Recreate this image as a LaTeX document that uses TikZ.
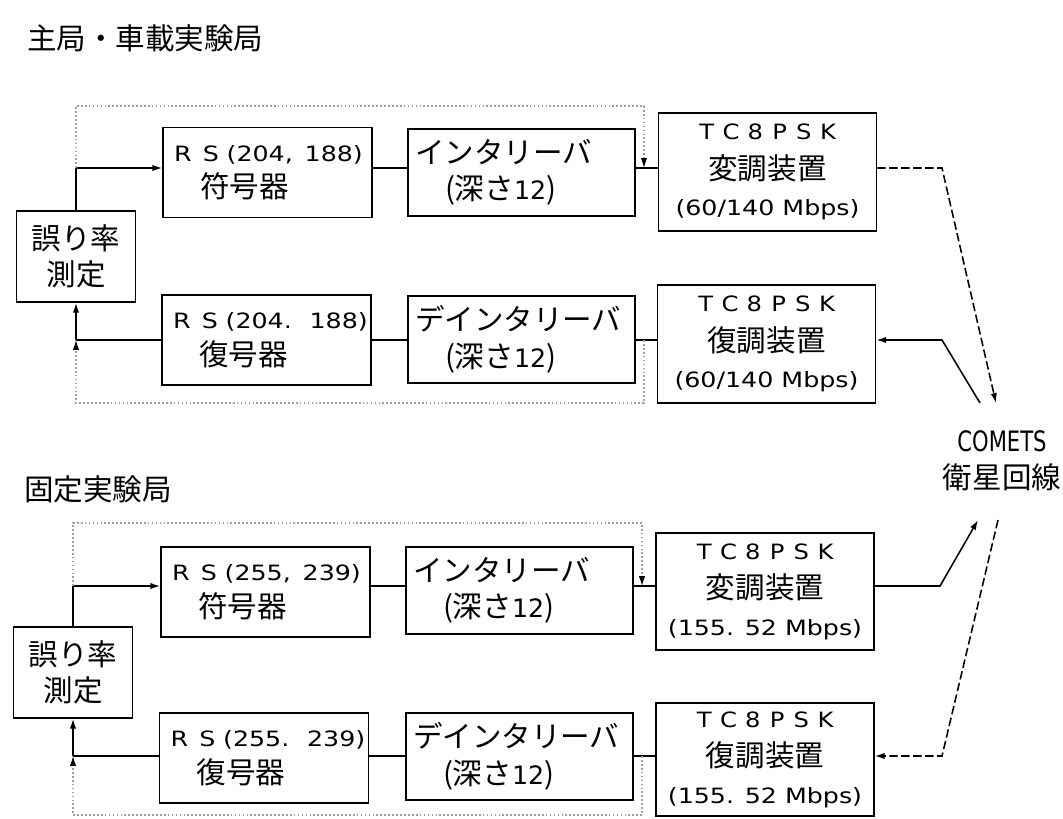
\documentclass[tikz,border=0pt]{standalone}
\usepackage{fontspec}
\usepackage{graphicx}
\setmainfont{Noto Sans CJK JP}
\newfontfamily\latfont{DejaVu Sans}
\usetikzlibrary{arrows.meta}
\newcommand\lat[1]{\scalebox{1.2}[1]{\latfont\fontsize{15pt}{15pt}\selectfont #1}}
\newcommand\fwc[1]{\makebox[1em]{#1}}
\newcommand\dig[1]{{\latfont\fontsize{18pt}{18pt}\selectfont #1}}
\newcommand\tcline{\scalebox{1.15}[1]{\latfont\fontsize{15pt}{15pt}\selectfont\fwc{T}\fwc{C}\fwc{8}\fwc{P}\fwc{S}\fwc{K}}}
\begin{document}
\begin{tikzpicture}[x=0.025cm,y=-0.025cm,
  font=\fontsize{21pt}{26pt}\selectfont,
  bx/.style n args={2}{draw, line width=1.1pt, rectangle, inner sep=0pt,
      minimum width=#1*0.025cm, minimum height=#2*0.025cm},
  rsbox/.style={bx={209}{90}, inner xsep=11*0.025cm, text width=187*0.025cm, align=left},
  ilbox/.style={bx={227}{87}, inner xsep=7*0.025cm, text width=213*0.025cm, align=left},
  tcbox/.style={bx={218}{118}, align=center},
  errbox/.style={bx={119}{91}, align=center},
  ln/.style={line width=1.1pt},
  arr/.style={-{Latex[length=7pt,width=4.5pt]}},
  dsh/.style={line width=1.1pt, dash pattern=on 6pt off 2.5pt},
  dot/.style={line width=0.8pt, gray!75, dash pattern=on 1.2pt off 1.6pt},
  darr/.style={-{Latex[length=7pt,width=4.5pt,color=black]}},
  ttl/.style={anchor=west, inner sep=0pt}
]
\fill[white] (0,0) rectangle (1063,818);
\useasboundingbox (0,0) rectangle (1063,818);

% titles
\node[ttl] (title1) at (27,38) {主局・車載実験局};
\node[ttl] (title2) at (24,489) {固定実験局};

% ---------- top station ----------
\node[errbox] (err1) at (76,256.5) {誤り率\\測定};
\node[rsbox] (rsenc1) at (267.5,172.5) {\lat{R\hspace{0.45em}S\hspace{0.3em}(204, 188)}\\\hspace*{0.65cm}符号器};
\node[ilbox] (il1) at (521.5,172.5) {インタリーバ\\\hspace*{0.75cm}(深さ\dig{12})};
\node[tcbox] (mod1) at (767.5,172) {\tcline\\[2pt]変調装置\\\lat{(60/140 Mbps)}};
\node[rsbox] (rsdec1) at (266.5,340) {\lat{R\hspace{0.45em}S\hspace{0.3em}(204. 188)}\\\hspace*{0.65cm}復号器};
\node[ilbox] (dil1) at (521.5,339.5) {デインタリーバ\\\hspace*{0.75cm}(深さ\dig{12})};
\node[tcbox] (dem1) at (766.5,344) {\tcline\\[2pt]復調装置\\\lat{(60/140 Mbps)}};

% ---------- fixed station ----------
\node[errbox] (err2) at (73,672.5) {誤り率\\測定};
\node[rsbox] (rsenc2) at (265.5,592) {\lat{R\hspace{0.45em}S\hspace{0.3em}(255, 239)}\\\hspace*{0.65cm}符号器};
\node[ilbox] (il2) at (519.5,590.5) {インタリーバ\\\hspace*{0.75cm}(深さ\dig{12})};
\node[tcbox, minimum height=117*0.025cm] (mod2) at (765,591.5) {\tcline\\[2pt]変調装置\\\lat{(155. 52 Mbps)}};
\node[rsbox] (rsdec2) at (264,758) {\lat{R\hspace{0.45em}S\hspace{0.3em}(255. 239)}\\\hspace*{0.65cm}復号器};
\node[ilbox] (dil2) at (519.5,756.5) {デインタリーバ\\\hspace*{0.75cm}(深さ\dig{12})};
\node[tcbox, minimum height=113*0.025cm] (dem2) at (765,759.5) {\tcline\\[2pt]復調装置\\\lat{(155. 52 Mbps)}};

% satellite label
\node[align=center, inner sep=0pt] (sat) at (1002,461) {\scalebox{0.75}[1]{\latfont\fontsize{20pt}{20pt}\selectfont COMETS}\\衛星回線};

% row references
\coordinate (r1) at (0,168);
\coordinate (r2) at (0,340);
\coordinate (r3) at (0,586);
\coordinate (r4) at (0,756);

% ---------- top station connectors ----------
\draw[ln,arr] (err1.north) |- (rsenc1.west|-r1);
\draw[ln] (rsenc1.east|-r1) -- (il1.west|-r1);
\draw[ln] (il1.east|-r1) -- (mod1.west|-r1);
\draw[ln] (dem1.west|-r2) -- (dil1.east|-r2);
\draw[ln] (dil1.west|-r2) -- (rsdec1.east|-r2);
\draw[ln] (rsdec1.west|-r2) -- (err1.south|-r2);
\draw[ln,arr] (err1.south|-r2) -- (err1.south);
% loop-back (dotted)
\coordinate (lt1) at (644,106);
\coordinate (lb1) at (644,403);
\draw[dot,darr] (err1.north|-r1) |- (lt1) -- (lt1|-r1);
\draw[dot,darr] (lb1|-r2) -- (lb1) -| (err1.south|-r2);

% ---------- fixed station connectors ----------
\draw[ln,arr] (err2.north) |- (rsenc2.west|-r3);
\draw[ln] (rsenc2.east|-r3) -- (il2.west|-r3);
\draw[ln] (il2.east|-r3) -- (mod2.west|-r3);
\draw[ln] (dem2.west|-r4) -- (dil2.east|-r4);
\draw[ln] (dil2.west|-r4) -- (rsdec2.east|-r4);
\draw[ln] (rsdec2.west|-r4) -- (err2.south|-r4);
\draw[ln,arr] (err2.south|-r4) -- (err2.south);
\coordinate (lt2) at (642,523);
\coordinate (lb2) at (642,815);
\draw[dot,darr] (err2.north|-r3) |- (lt2) -- (lt2|-r3);
\draw[dot,darr] (lb2|-r4) -- (lb2) -| (err2.south|-r4);

% ---------- satellite links ----------
\coordinate (k1) at (942,168);
\coordinate (s1) at (996,403);
\coordinate (s2) at (980,403);
\coordinate (k2) at (942,340);
\coordinate (k3) at (940,586);
\coordinate (s3) at (978,520);
\coordinate (s4) at (998,520);
\coordinate (k4) at (942,756);
\draw[dsh,arr] (mod1.east|-r1) -- (k1) -- (s1);
\draw[ln,arr] (s2) -- (k2) -- (dem1.east|-r2);
\draw[ln,arr] (mod2.east|-r3) -- (k3) -- (s3);
\draw[dsh,arr] (s4) -- (k4) -- (dem2.east|-r4);
\end{tikzpicture}
\end{document}
